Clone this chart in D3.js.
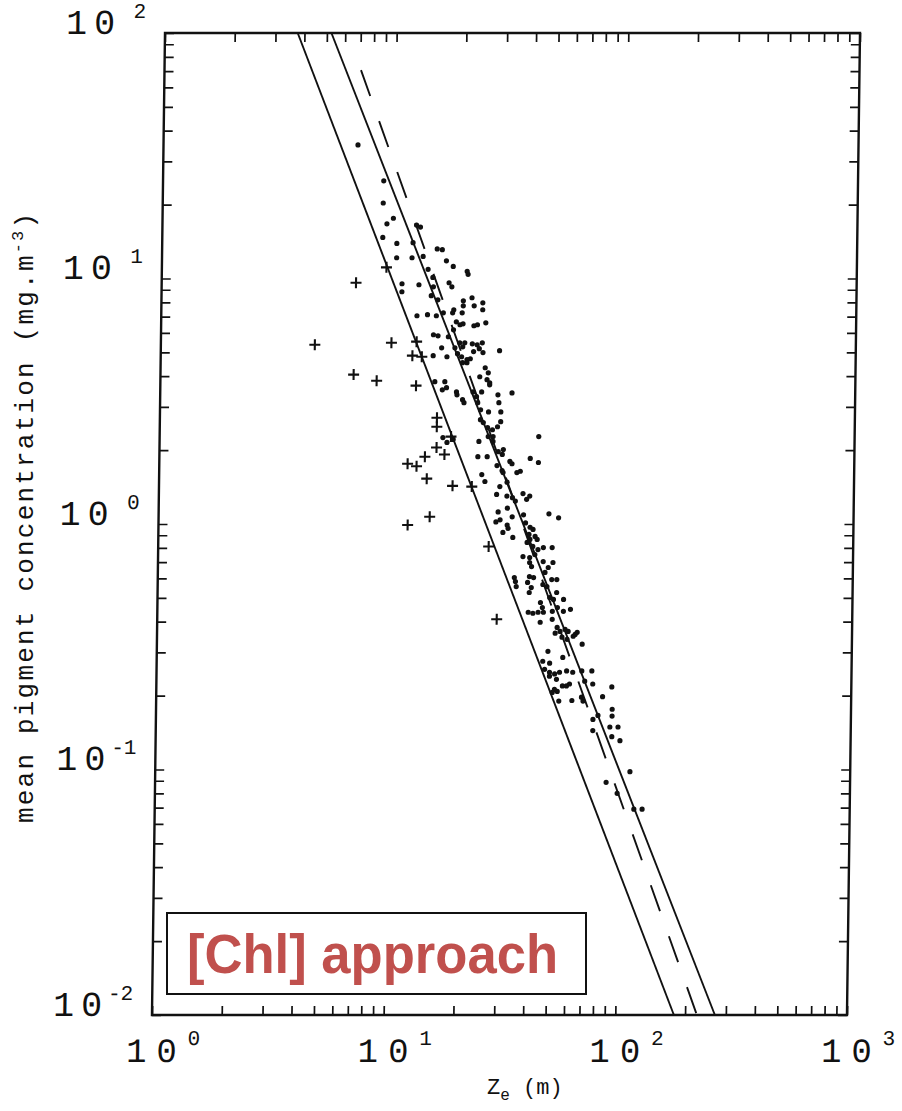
<!DOCTYPE html>
<html>
<head>
<meta charset="utf-8">
<script src="https://cdn.jsdelivr.net/npm/d3@7"></script>
<style>
  html, body { margin: 0; padding: 0; background: #fff; }
  svg { display: block; }
</style>
</head>
<body>
<div id="chart"></div>
<script>
// decades shown on the axes (powers of ten)
const xExponents = [0, 1, 2, 3];
const yExponents = [2, 1, 0, -1, -2];

// fitted relationships, [Ze (m), pigment (mg m-3)]
const fitLow = [[3.74, 100], [179, 0.01]];
const fitHigh = [[5.23, 100], [269, 0.01]];
const fitDashed = [[7.05, 70.6], [225, 0.01]];

// stations plotted with "+"
const crossPoints = [
  [4.62, 5.37], [6.90, 9.61], [9.32, 11.1], [6.82, 4.06], [8.58, 3.83],
  [9.89, 5.47], [12.7, 5.53], [12.2, 4.85], [13.4, 4.80], [12.7, 3.66],
  [15.7, 2.71], [15.7, 2.49], [18.1, 2.27], [15.7, 2.05], [17.0, 1.92],
  [14.0, 1.88], [11.8, 1.76], [12.9, 1.72], [14.3, 1.53], [18.5, 1.43],
  [22.4, 1.42], [14.8, 1.07], [11.9, 0.99], [26.7, 0.81], [29.2, 0.409]
];

// stations plotted with dots
const dotPoints = [
  [6.91, 35.0], [8.97, 25.0],
  [8.95, 20.3], [9.92, 17.6], [9.31, 16.7], [12.5, 16.5], [13.0, 16.2],
  [8.95, 14.7], [10.3, 13.9], [12.1, 14.0], [15.4, 13.2], [16.2, 13.1],
  [10.3, 12.15], [12.0, 12.15], [13.4, 12.3], [16.9, 11.8], [18.1, 11.2],
  [14.1, 10.9], [20.8, 10.7], [21.0, 10.4], [14.8, 10.1], [10.9, 9.52],
  [12.9, 9.43], [17.4, 9.61], [17.9, 9.25], [14.9, 9.25], [10.9, 8.83],
  [14.6, 8.51], [21.9, 8.35],
  [15.6, 8.19], [20.1, 8.11], [18.3, 7.46], [18.1, 7.25], [20.1, 7.74],
  [22.4, 7.74], [24.4, 7.96], [19.9, 7.25], [24.4, 7.46], [12.7, 7.05],
  [14.1, 7.12], [15.4, 7.05], [16.5, 7.25], [18.8, 6.66], [19.5, 6.48],
  [20.1, 6.54], [22.4, 6.42], [23.2, 6.48], [25.2, 6.60], [18.3, 6.18],
  [15.0, 5.90], [15.7, 5.84], [17.4, 5.79], [19.5, 5.47], [20.1, 5.27],
  [20.5, 5.47], [22.1, 5.42], [23.2, 5.37], [24.4, 5.47], [16.3, 5.22],
  [18.6, 5.22], [15.0, 4.85], [17.2, 4.80], [19.1, 4.94], [19.9, 4.80],
  [21.0, 4.67], [21.7, 4.71], [22.4, 5.04], [23.7, 5.18], [24.6, 4.99],
  [29.0, 5.08], [20.1, 4.54], [21.0, 4.54], [25.2, 4.33], [23.9, 3.98],
  [26.0, 4.13], [25.7, 3.87], [26.4, 3.76], [15.3, 3.80], [16.9, 3.80],
  [16.5, 3.52], [17.2, 3.59], [19.0, 3.45], [19.1, 3.36], [22.4, 3.45],
  [23.2, 3.30], [24.4, 3.45], [26.4, 3.69], [28.7, 3.36], [33.0, 3.42],
  [20.2, 3.21], [20.5, 3.12], [29.0, 3.12], [29.6, 2.86], [23.5, 3.12],
  [24.2, 2.92], [26.2, 2.86], [24.2, 2.66], [24.9, 2.59], [26.0, 2.47],
  [27.3, 2.42], [28.7, 2.49], [29.6, 2.61], [26.2, 2.27], [27.5, 2.27],
  [23.9, 2.17], [16.7, 2.25], [18.5, 2.21], [17.4, 2.15], [43.3, 2.27],
  [27.5, 2.17], [23.7, 1.88], [26.0, 1.88], [29.0, 1.97], [30.2, 1.92],
  [30.5, 2.01], [32.6, 1.80], [33.3, 1.76], [39.9, 1.85], [43.3, 1.78],
  [28.7, 1.73], [30.2, 1.65], [30.5, 1.62], [35.0, 1.62], [36.2, 1.64],
  [24.7, 1.59], [25.5, 1.49], [29.6, 1.42], [31.8, 1.48], [31.8, 1.30],
  [33.6, 1.28], [37.3, 1.33], [39.9, 1.30], [28.7, 1.32],
  [34.6, 1.24], [38.7, 1.26], [29.2, 1.12], [29.8, 1.04], [32.0, 1.16],
  [33.6, 1.07], [37.6, 1.09], [38.4, 1.01], [48.4, 1.10], [53.3, 1.06],
  [28.6, 1.02], [32.0, 0.99], [32.3, 0.96], [30.7, 0.924], [33.9, 0.882],
  [40.2, 0.97], [41.4, 0.950], [39.8, 0.907], [42.3, 0.890], [40.2, 0.865],
  [43.2, 0.865], [39.1, 0.841], [41.4, 0.810], [43.6, 0.787], [46.0, 0.802],
  [50.2, 0.802], [37.6, 0.737], [40.2, 0.730], [42.3, 0.751], [40.2, 0.697],
  [41.0, 0.671], [46.0, 0.703], [48.4, 0.665], [50.7, 0.697], [46.9, 0.635],
  [34.6, 0.605], [35.0, 0.583], [35.3, 0.556], [40.2, 0.611], [41.9, 0.605],
  [50.2, 0.594], [52.8, 0.594], [39.5, 0.578], [41.0, 0.551], [40.2, 0.526],
  [46.0, 0.567], [47.9, 0.556], [52.8, 0.526], [49.3, 0.502],
  [51.2, 0.493], [56.6, 0.493], [45.0, 0.479], [45.9, 0.457], [39.9, 0.437],
  [41.8, 0.433], [44.0, 0.437], [46.4, 0.437], [50.7, 0.441], [53.3, 0.457],
  [56.6, 0.441], [60.7, 0.449], [45.0, 0.398], [50.7, 0.409], [53.3, 0.379],
  [54.9, 0.365], [57.7, 0.372], [59.5, 0.365], [65.1, 0.362], [62.6, 0.349],
  [56.0, 0.346], [58.9, 0.339], [48.8, 0.303], [56.6, 0.286], [46.4, 0.276],
  [49.7, 0.271], [47.3, 0.256], [49.7, 0.249], [54.9, 0.249], [58.9, 0.252],
  [62.6, 0.249], [49.7, 0.240], [53.3, 0.233], [56.6, 0.219], [60.7, 0.223],
  [52.3, 0.359], [63.8, 0.355], [68.5, 0.324], [52.3, 0.245], [68.5, 0.252],
  [75.7, 0.252], [58.9, 0.219], [70.6, 0.229], [52.3, 0.212], [53.8, 0.208],
  [51.2, 0.206], [76.5, 0.223], [92.5, 0.217], [68.5, 0.197], [84.5, 0.198],
  [54.7, 0.190], [62.3, 0.191], [69.6, 0.190], [77.0, 0.160], [80.9, 0.166],
  [77.0, 0.144], [93.1, 0.176], [93.1, 0.165], [91.2, 0.149], [98.9, 0.149],
  [93.1, 0.136], [101, 0.131], [112, 0.098], [88.5, 0.0887], [98.9, 0.080],
  [117, 0.0689], [127, 0.0689]
];

const width = 902, height = 1111;
const plotTop = 33, plotLeft = 165, plotRight = 860, plotH = 982;
const skew = -0.76; // the scanned figure leans slightly
const ink = '#111';
const mono = '"Liberation Mono", "DejaVu Sans Mono", monospace';

const svg = d3.select('#chart')
  .append('svg')
  .attr('width', width)
  .attr('height', height);

svg.append('rect')
  .attr('width', width)
  .attr('height', height)
  .attr('fill', '#fff');

// log scales for both axes
const x = d3.scaleLog().domain([1, 1000]).range([plotLeft, plotRight]);
const y = d3.scaleLog().domain([0.01, 100]).range([plotH, 0]);

const g = svg.append('g')
  .attr('transform', `translate(0, ${plotTop}) skewX(${skew})`);

// inward ticks on all four sides
const tickLen = 9;
const noLabel = () => '';
const styleAxis = a => {
  a.select('.domain').remove();
  a.attr('color', ink);
  a.selectAll('.tick line').attr('stroke-width', 1.7);
};

g.append('g')
  .attr('transform', `translate(0, ${plotH})`)
  .call(d3.axisBottom(x).tickSize(-tickLen).tickFormat(noLabel))
  .call(styleAxis);
g.append('g')
  .call(d3.axisTop(x).tickSize(-tickLen).tickFormat(noLabel))
  .call(styleAxis);
g.append('g')
  .attr('transform', `translate(${plotLeft}, 0)`)
  .call(d3.axisLeft(y).tickSize(-tickLen).tickFormat(noLabel))
  .call(styleAxis);
g.append('g')
  .attr('transform', `translate(${plotRight}, 0)`)
  .call(d3.axisRight(y).tickSize(-tickLen).tickFormat(noLabel))
  .call(styleAxis);

// frame
g.append('rect')
  .attr('x', plotLeft)
  .attr('y', 0)
  .attr('width', plotRight - plotLeft)
  .attr('height', plotH)
  .attr('fill', 'none')
  .attr('stroke', ink)
  .attr('stroke-width', 2.4);

// y tick labels: 10 with superscript exponent
const yLab = g.append('g').attr('font-family', mono).attr('fill', ink);
yLab.selectAll('text.base')
  .data(yExponents)
  .enter()
  .append('text')
  .attr('class', 'base')
  .attr('x', 66)
  .attr('y', d => y(Math.pow(10, d)) + 1)
  .attr('font-size', 35)
  .attr('letter-spacing', 7)
  .text('10');
yLab.selectAll('text.exp')
  .data(yExponents)
  .enter()
  .append('text')
  .attr('class', 'exp')
  .attr('x', 146)
  .attr('y', d => y(Math.pow(10, d)) - 15)
  .attr('font-size', 21)
  .attr('text-anchor', 'end')
  .text(d => String(d));

// x tick labels
const xLab = g.append('g').attr('font-family', mono).attr('fill', ink);
xLab.selectAll('text.base')
  .data(xExponents)
  .enter()
  .append('text')
  .attr('class', 'base')
  .attr('x', d => x(Math.pow(10, d)) + 5)
  .attr('y', plotH + 47)
  .attr('font-size', 34)
  .attr('letter-spacing', 10)
  .attr('text-anchor', 'middle')
  .text('10');
xLab.selectAll('text.exp')
  .data(xExponents)
  .enter()
  .append('text')
  .attr('class', 'exp')
  .attr('x', d => x(Math.pow(10, d)) + 36)
  .attr('y', plotH + 30)
  .attr('font-size', 21)
  .text(d => String(d));

// fitted lines
const line = d3.line()
  .x(d => x(d[0]))
  .y(d => y(d[1]));

g.append('path')
  .datum(fitLow)
  .attr('d', line)
  .attr('fill', 'none')
  .attr('stroke', ink)
  .attr('stroke-width', 1.9);
g.append('path')
  .datum(fitHigh)
  .attr('d', line)
  .attr('fill', 'none')
  .attr('stroke', ink)
  .attr('stroke-width', 1.9);
g.append('path')
  .datum(fitDashed)
  .attr('d', line)
  .attr('fill', 'none')
  .attr('stroke', ink)
  .attr('stroke-width', 1.9)
  .attr('stroke-dasharray', '27.6,26.7');

// dots
g.selectAll('circle.dot')
  .data(dotPoints)
  .enter()
  .append('circle')
  .attr('class', 'dot')
  .attr('cx', d => x(d[0]))
  .attr('cy', d => y(d[1]))
  .attr('r', 2.6)
  .attr('fill', ink);

// crosses
g.selectAll('path.cross')
  .data(crossPoints)
  .enter()
  .append('path')
  .attr('class', 'cross')
  .attr('transform', d => `translate(${x(d[0])}, ${y(d[1])})`)
  .attr('d', 'M-5.5,0H5.5M0,-5.5V5.5')
  .attr('stroke', ink)
  .attr('stroke-width', 2.1);

// axis titles
const yTitle = svg.append('text')
  .attr('transform', 'translate(33, 823) rotate(-90)')
  .attr('font-family', mono)
  .attr('font-size', 26)
  .attr('letter-spacing', 2.2)
  .attr('fill', ink);
yTitle.append('tspan').text('mean pigment concentration (mg.m');
yTitle.append('tspan').attr('dy', -10).attr('font-size', 17).text('-3');
yTitle.append('tspan').attr('dy', 10).text(')');

const xTitle = svg.append('text')
  .attr('x', 487)
  .attr('y', 1094)
  .attr('font-family', mono)
  .attr('font-size', 22)
  .attr('fill', ink);
xTitle.append('tspan').text('Z');
xTitle.append('tspan').attr('dy', 6).attr('font-size', 16).text('e');
xTitle.append('tspan').attr('dy', -6).text(' (m)');

// overlay label box
svg.append('rect')
  .attr('x', 167)
  .attr('y', 913)
  .attr('width', 419)
  .attr('height', 81)
  .attr('fill', '#fff')
  .attr('stroke', '#111')
  .attr('stroke-width', 2);
svg.append('text')
  .attr('x', 187)
  .attr('y', 973)
  .attr('font-family', '"Liberation Sans", Arial, sans-serif')
  .attr('font-weight', 'bold')
  .attr('font-size', 55)
  .attr('textLength', 371)
  .attr('lengthAdjust', 'spacingAndGlyphs')
  .attr('fill', '#c0504d')
  .text('[Chl] approach');
</script>
</body>
</html>
